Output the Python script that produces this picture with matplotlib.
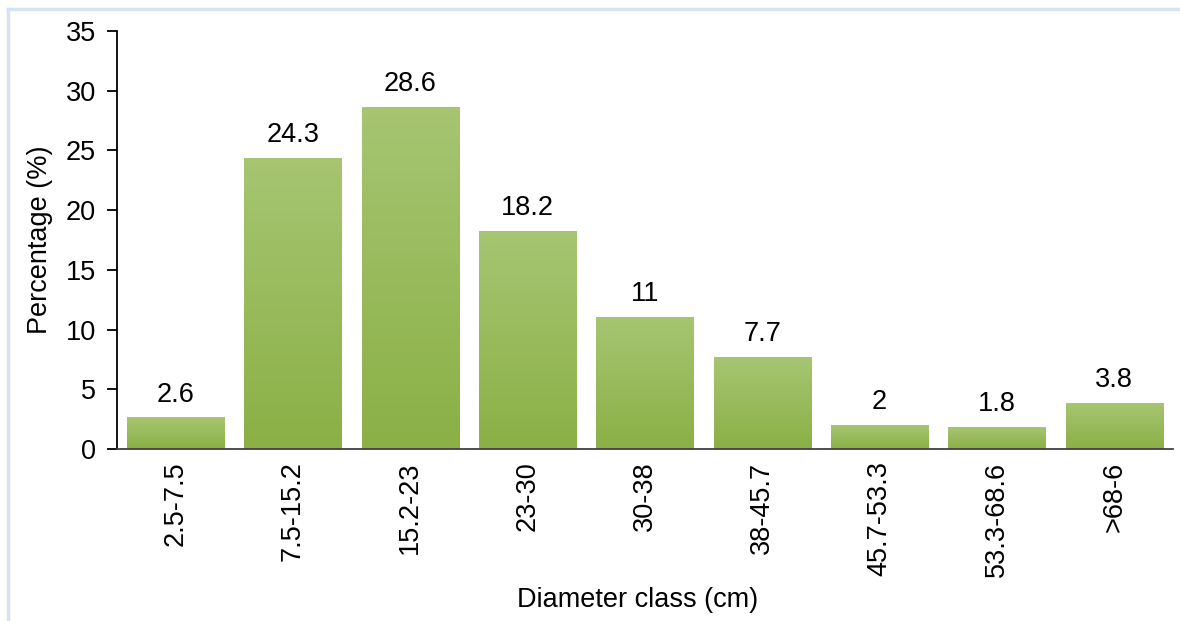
import matplotlib
matplotlib.use("Agg")
import matplotlib.pyplot as plt
import numpy as np
from matplotlib.colors import LinearSegmentedColormap
from matplotlib.lines import Line2D

categories = ["2.5-7.5", "7.5-15.2", "15.2-23", "23-30", "30-38", "38-45.7", "45.7-53.3", "53.3-68.6", ">68-6"]
values = [2.6, 24.3, 28.6, 18.2, 11, 7.7, 2, 1.8, 3.8]
labels = ["2.6", "24.3", "28.6", "18.2", "11", "7.7", "2", "1.8", "3.8"]

plt.rcParams['font.family'] = ['Liberation Sans', 'DejaVu Sans']
FS = 19.5

fig = plt.figure(figsize=(11.8, 6.21), dpi=100)
ax = fig.add_axes([0.0992, 0.277, 0.8948, 0.673])

x = np.arange(len(categories))
width = 0.83
bars = ax.bar(x, values, width=width, color="none", edgecolor="none", zorder=2)

cmap = LinearSegmentedColormap.from_list("g", ["#8bb046", "#a7c572"])
grad = np.linspace(0, 1, 256).reshape(-1, 1)
for i, b in enumerate(bars):
    x0 = b.get_x(); h = b.get_height()
    ax.imshow(grad, cmap=cmap, aspect="auto", origin="lower",
              extent=[x0, x0 + b.get_width(), 0, h], zorder=1)
    ax.annotate(labels[i], (x0 + b.get_width() / 2, h),
                xytext=(0, 7.5), textcoords="offset points",
                ha="center", va="bottom", fontsize=FS)

ax.set_xlim(-0.5, len(categories) - 0.5)
ax.set_ylim(0, 35)
ax.set_yticks(np.arange(0, 36, 5))
ax.set_xticks(x)
ax.set_xticklabels(categories, rotation=90, fontsize=FS)
ax.tick_params(axis="y", labelsize=FS, direction="out", length=7, width=1.3, pad=8)
ax.tick_params(axis="x", length=0, pad=9)
for s in ["top", "right"]:
    ax.spines[s].set_visible(False)
ax.spines["left"].set_linewidth(1.3)
ax.spines["bottom"].set_linewidth(1.3)
ax.spines["bottom"].set_color("#404040")

ax.set_ylabel("Percentage (%)", fontsize=FS, labelpad=9)
fig.text(0.54, 0.034, "Diameter class (cm)", ha="center", va="center", fontsize=FS)

# light frame lines
fig.add_artist(Line2D([0.007, 1.0], [0.985, 0.985], color="#d6e3f5", lw=2.5, transform=fig.transFigure))
fig.add_artist(Line2D([0.007, 0.007], [0.0, 0.985], color="#d6e3f5", lw=2.5, transform=fig.transFigure))

fig.savefig("out.png", dpi=100)
